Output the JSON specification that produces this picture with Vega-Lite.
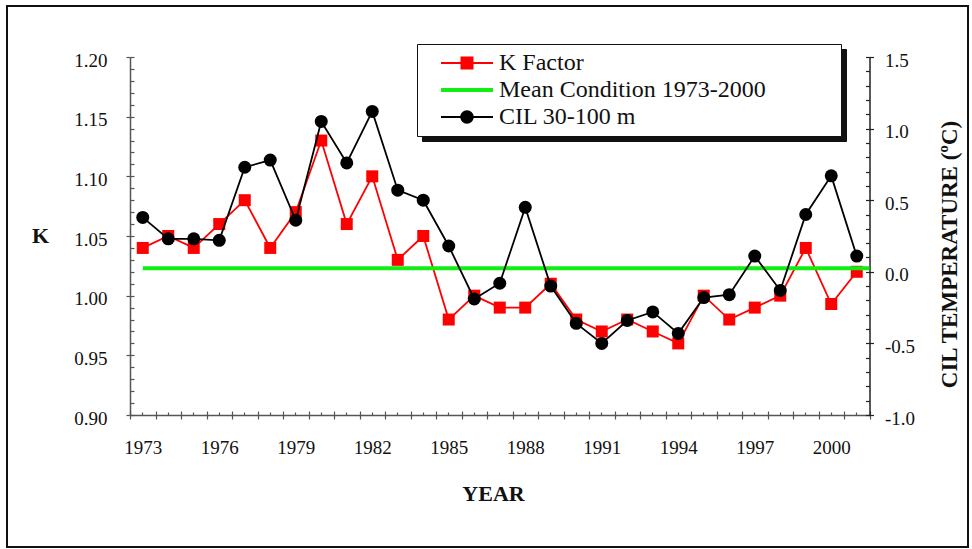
{
  "$schema": "https://vega.github.io/schema/vega-lite/v6.json",
  "width": 961,
  "height": 541,
  "autosize": {"type": "none"},
  "padding": {"left": 7, "top": 6, "right": 4, "bottom": 2},
  "background": "white",
  "config": {
    "view": {"stroke": "#111111", "strokeWidth": 2},
    "font": "Liberation Serif",
    "locale": {"number": {"decimal": ".", "thousands": ",", "grouping": [3], "currency": ["$", ""], "minus": "-"}},
    "axis": {"grid": false, "labelFont": "Liberation Serif", "titleFont": "Liberation Serif", "labelColor": "#111111", "titleColor": "#111111", "labelOverlap": false, "labelFlush": false},
    "legend": {"labelFont": "Liberation Serif", "labelFontSize": 24,
      "symbolSize": 576, "symbolStrokeWidth": 0, "symbolOffset": 17, "labelOffset": 34, "labelLimit": 400,
      "padding": 7, "rowPadding": 3}
  },
  "data": {
    "values": [
      {"year": 1973, "series": "K Factor", "value": 1.04},
      {"year": 1974, "series": "K Factor", "value": 1.05},
      {"year": 1975, "series": "K Factor", "value": 1.04},
      {"year": 1976, "series": "K Factor", "value": 1.06},
      {"year": 1977, "series": "K Factor", "value": 1.08},
      {"year": 1978, "series": "K Factor", "value": 1.04},
      {"year": 1979, "series": "K Factor", "value": 1.07},
      {"year": 1980, "series": "K Factor", "value": 1.13},
      {"year": 1981, "series": "K Factor", "value": 1.06},
      {"year": 1982, "series": "K Factor", "value": 1.10},
      {"year": 1983, "series": "K Factor", "value": 1.03},
      {"year": 1984, "series": "K Factor", "value": 1.05},
      {"year": 1985, "series": "K Factor", "value": 0.98},
      {"year": 1986, "series": "K Factor", "value": 1.00},
      {"year": 1987, "series": "K Factor", "value": 0.99},
      {"year": 1988, "series": "K Factor", "value": 0.99},
      {"year": 1989, "series": "K Factor", "value": 1.01},
      {"year": 1990, "series": "K Factor", "value": 0.98},
      {"year": 1991, "series": "K Factor", "value": 0.97},
      {"year": 1992, "series": "K Factor", "value": 0.98},
      {"year": 1993, "series": "K Factor", "value": 0.97},
      {"year": 1994, "series": "K Factor", "value": 0.96},
      {"year": 1995, "series": "K Factor", "value": 1.00},
      {"year": 1996, "series": "K Factor", "value": 0.98},
      {"year": 1997, "series": "K Factor", "value": 0.99},
      {"year": 1998, "series": "K Factor", "value": 1.00},
      {"year": 1999, "series": "K Factor", "value": 1.04},
      {"year": 2000, "series": "K Factor", "value": 0.993},
      {"year": 2001, "series": "K Factor", "value": 1.02},
      {"year": 1973, "year_end": 2001, "series": "Mean Condition  1973-2000", "value": 1.023},
      {"year": 1973, "series": "CIL  30-100 m", "value": 0.38},
      {"year": 1974, "series": "CIL  30-100 m", "value": 0.23},
      {"year": 1975, "series": "CIL  30-100 m", "value": 0.23},
      {"year": 1976, "series": "CIL  30-100 m", "value": 0.22},
      {"year": 1977, "series": "CIL  30-100 m", "value": 0.73},
      {"year": 1978, "series": "CIL  30-100 m", "value": 0.78},
      {"year": 1979, "series": "CIL  30-100 m", "value": 0.36},
      {"year": 1980, "series": "CIL  30-100 m", "value": 1.05},
      {"year": 1981, "series": "CIL  30-100 m", "value": 0.76},
      {"year": 1982, "series": "CIL  30-100 m", "value": 1.12},
      {"year": 1983, "series": "CIL  30-100 m", "value": 0.57},
      {"year": 1984, "series": "CIL  30-100 m", "value": 0.50},
      {"year": 1985, "series": "CIL  30-100 m", "value": 0.18},
      {"year": 1986, "series": "CIL  30-100 m", "value": -0.19},
      {"year": 1987, "series": "CIL  30-100 m", "value": -0.08},
      {"year": 1988, "series": "CIL  30-100 m", "value": 0.45},
      {"year": 1989, "series": "CIL  30-100 m", "value": -0.10},
      {"year": 1990, "series": "CIL  30-100 m", "value": -0.36},
      {"year": 1991, "series": "CIL  30-100 m", "value": -0.50},
      {"year": 1992, "series": "CIL  30-100 m", "value": -0.34},
      {"year": 1993, "series": "CIL  30-100 m", "value": -0.28},
      {"year": 1994, "series": "CIL  30-100 m", "value": -0.43},
      {"year": 1995, "series": "CIL  30-100 m", "value": -0.18},
      {"year": 1996, "series": "CIL  30-100 m", "value": -0.16},
      {"year": 1997, "series": "CIL  30-100 m", "value": 0.11},
      {"year": 1998, "series": "CIL  30-100 m", "value": -0.13},
      {"year": 1999, "series": "CIL  30-100 m", "value": 0.40},
      {"year": 2000, "series": "CIL  30-100 m", "value": 0.67},
      {"year": 2001, "series": "CIL  30-100 m", "value": 0.11}
    ]
  },
  "layer": [
    {
      "layer": [
        {
          "transform": [{"filter": "datum.series === 'K Factor'"}],
          "mark": {"type": "line", "color": "#ff0000", "strokeWidth": 1.8},
          "encoding": {
            "x": {"field": "year", "type": "ordinal",
              "scale": {"type": "band", "range": [123, 862.5], "paddingInner": 0, "paddingOuter": 0},
              "axis": {"orient": "bottom", "offset": -132, "tickBand": "extent", "tickSize": 4, "tickColor": "#555555", "tickWidth": 1.2,
                "domainColor": "#555555", "domainWidth": 1.5, "labelAngle": 0, "labelFontSize": 19, "labelPadding": 19,
                "labelExpr": "(datum.value - 1973) % 3 == 0 ? datum.label : ''",
                "title": "YEAR", "titleFontSize": 22, "titleFontWeight": "bold", "titleX": 486, "titleY": 78, "titleBaseline": "middle", "titleAlign": "center"}},
            "y": {"field": "value", "type": "quantitative",
              "scale": {"domain": [0.9, 1.2], "range": [409, 51], "nice": false, "zero": false},
              "axis": {"orient": "left", "offset": -123, "values": [0.9, 0.95, 1.0, 1.05, 1.1, 1.15, 1.2], "format": ".2f",
                "tickSize": 4, "tickColor": "#555555", "tickWidth": 1.2, "domainColor": "#555555", "domainWidth": 1.5,
                "labelFontSize": 19, "labelPadding": 19, "labelOffset": 3,
                "title": "K", "titleFontSize": 22, "titleFontWeight": "bold", "titleAngle": 0, "titleX": -90, "titleY": 229, "titleAlign": "center", "titleBaseline": "middle"}}
          }
        },
        {
          "transform": [{"filter": "datum.series === 'K Factor'"}],
          "mark": {"type": "point", "shape": "square", "filled": true, "size": 144, "color": "#ff0000", "opacity": 1},
          "encoding": {
            "x": {"field": "year", "type": "ordinal",
              "axis": {"orient": "bottom", "offset": -132, "tickBand": "extent", "tickSize": -4, "tickColor": "#555555", "tickWidth": 1.2,
                "labels": false, "domain": false, "title": null}},
            "y": {"field": "value", "type": "quantitative",
              "axis": {"orient": "left", "offset": -123,
                "values": [0.9, 0.91, 0.92, 0.93, 0.94, 0.95, 0.96, 0.97, 0.98, 0.99, 1.0, 1.01, 1.02, 1.03, 1.04, 1.05, 1.06, 1.07, 1.08, 1.09, 1.1, 1.11, 1.12, 1.13, 1.14, 1.15, 1.16, 1.17, 1.18, 1.19, 1.2],
                "tickSize": -4, "tickColor": "#555555", "tickWidth": 1.2, "labels": false, "domain": false, "title": null}}
          }
        },
        {
          "transform": [{"filter": "datum.series === 'Mean Condition  1973-2000'"}],
          "mark": {"type": "rule", "color": "#11ee11", "strokeWidth": 4, "x2Offset": 12.7},
          "encoding": {
            "x": {"field": "year", "type": "ordinal",
              "axis": {"orient": "bottom", "offset": -132, "tickSize": -3, "tickColor": "#555555", "tickWidth": 1.2,
                "labels": false, "domain": false, "title": null}},
            "x2": {"field": "year_end"},
            "y": {"field": "value", "type": "quantitative", "axis": null}
          }
        }
      ],
      "resolve": {"axis": {"x": "independent", "y": "independent"}}
    },
    {
      "layer": [
        {
          "transform": [{"filter": "datum.series === 'CIL  30-100 m'"}],
          "mark": {"type": "line", "color": "#000000", "strokeWidth": 1.8},
          "encoding": {
            "x": {"field": "year", "type": "ordinal", "axis": null},
            "y": {"field": "value", "type": "quantitative",
              "scale": {"domain": [-1, 1.5], "range": [409, 51], "nice": false, "zero": false},
              "axis": {"orient": "right", "offset": -98.5, "values": [-1, -0.5, 0, 0.5, 1, 1.5], "format": ".1f",
                "tickSize": 4, "tickColor": "#222222", "tickWidth": 1.2, "domainColor": "#222222", "domainWidth": 1.5,
                "labelFontSize": 19, "labelPadding": 11, "labelOffset": 3,
                "title": "CIL TEMPERATURE (ºC)", "titleFontSize": 23, "titleFontWeight": "bold", "titleAngle": 270, "titleX": 80, "titleY": 248, "titleAlign": "center", "titleBaseline": "middle"}}
          }
        },
        {
          "transform": [{"filter": "datum.series === 'CIL  30-100 m'"}],
          "mark": {"type": "point", "shape": "circle", "filled": true, "size": 169, "color": "#000000", "opacity": 1},
          "encoding": {
            "x": {"field": "year", "type": "ordinal", "axis": null},
            "y": {"field": "value", "type": "quantitative",
              "axis": {"orient": "right", "offset": -98.5,
                "values": [-1, -0.9, -0.8, -0.7, -0.6, -0.5, -0.4, -0.3, -0.2, -0.1, 0, 0.1, 0.2, 0.3, 0.4, 0.5, 0.6, 0.7, 0.8, 0.9, 1, 1.1, 1.2, 1.3, 1.4, 1.5],
                "tickSize": -4, "tickColor": "#222222", "tickWidth": 1.2, "labels": false, "domain": false, "title": null}}
          }
        }
      ],
      "resolve": {"axis": {"y": "independent"}}
    },
    {
      "mark": {"type": "point", "shape": "M-1,-0.083H3.333V0.083H-1Z M31.75,0Z", "filled": true, "size": 0, "opacity": 1, "color": "#111111"},
      "encoding": {
        "opacity": {"field": "series", "type": "ordinal",
          "sort": ["K Factor", "Mean Condition  1973-2000", "CIL  30-100 m"],
          "scale": {"range": [1, 1]},
          "legend": {"orient": "none", "legendX": 415, "legendY": 43, "title": null, "zindex": 1, "labelExpr": "''",
            "strokeColor": "#111111", "fillColor": "#111111", "symbolFillColor": "#111111"}}
      }
    },
    {
      "mark": {"type": "point", "filled": true, "size": 0, "opacity": 1},
      "encoding": {
        "color": {"field": "series", "type": "nominal",
          "scale": {"domain": ["K Factor", "Mean Condition  1973-2000", "CIL  30-100 m"], "range": ["#ff0000", "#11ee11", "#000000"]},
          "legend": {"orient": "none", "legendX": 410, "legendY": 38, "title": null, "zindex": 2,
            "strokeColor": "#111111", "fillColor": "white", "labelColor": "#111111"}},
        "shape": {"field": "series", "type": "nominal",
          "scale": {"domain": ["K Factor", "Mean Condition  1973-2000", "CIL  30-100 m"],
            "range": [
              "M-1,-0.083H3.333V0.083H-1Z M0.625,-0.54H1.708V0.54H0.625Z M31.75,0Z",
              "M-1,-0.167H3.333V0.167H-1Z M31.75,0Z",
              "M-1,-0.083H3.333V0.083H-1Z M1.727,0A0.56,0.56 0 1,1 0.607,0A0.56,0.56 0 1,1 1.727,0Z M31.75,0Z"
            ]}}
      }
    }
  ],
  "resolve": {"scale": {"y": "independent"}, "axis": {"x": "independent", "y": "independent"}}
}
